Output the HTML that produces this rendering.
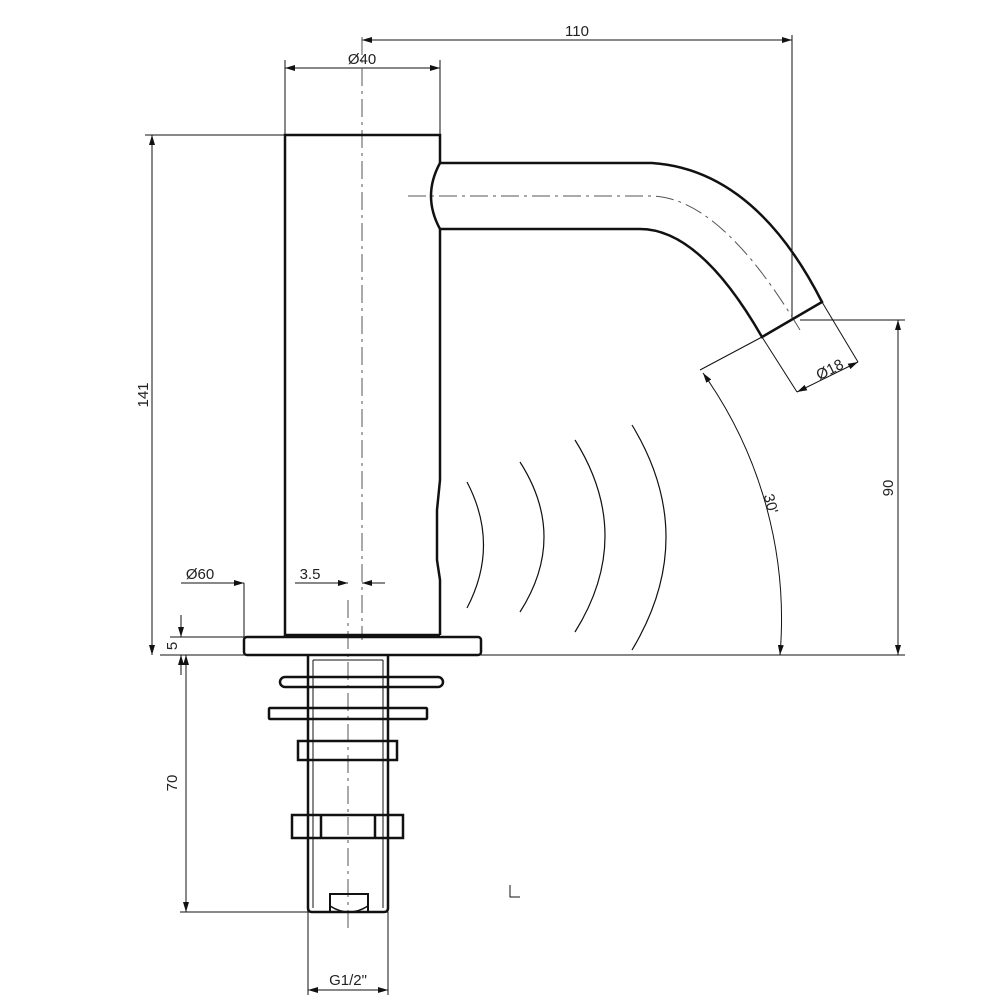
<!DOCTYPE html>
<html><head><style>html,body{margin:0;padding:0;background:#fff}svg{display:block}</style></head><body>
<svg width="1001" height="1001" viewBox="0 0 1001 1001" xmlns="http://www.w3.org/2000/svg" font-family="Liberation Sans, sans-serif" font-size="15" fill="none" stroke="#111">
<defs><marker id="a" viewBox="0 0 10 6" refX="10" refY="3" markerWidth="10" markerHeight="6" orient="auto-start-reverse" markerUnits="userSpaceOnUse"><path d="M0,0 L10,3 L0,6z" fill="#111" stroke="none"/></marker></defs>
<g stroke-width="1">
<line x1="792" y1="35" x2="792" y2="320"/>
<line x1="362" y1="40" x2="792" y2="40" marker-start="url(#a)" marker-end="url(#a)"/>
<line x1="285" y1="60" x2="285" y2="135"/><line x1="440" y1="60" x2="440" y2="160"/>
<line x1="285" y1="68" x2="440" y2="68" marker-start="url(#a)" marker-end="url(#a)"/>
<line x1="145" y1="135" x2="285" y2="135"/>
<line x1="152" y1="135" x2="152" y2="655" marker-start="url(#a)" marker-end="url(#a)"/>
<line x1="160" y1="655" x2="905" y2="655"/>
<line x1="800" y1="320" x2="905" y2="320"/>
<line x1="898" y1="320" x2="898" y2="655" marker-start="url(#a)" marker-end="url(#a)"/>
<line x1="170" y1="637" x2="244" y2="637"/>
<line x1="181" y1="615" x2="181" y2="637" marker-end="url(#a)"/>
<line x1="181" y1="675" x2="181" y2="655" marker-end="url(#a)"/>
<line x1="181" y1="583" x2="244" y2="583" marker-end="url(#a)"/><line x1="244" y1="583" x2="244" y2="637"/>
<line x1="295" y1="583" x2="348" y2="583" marker-end="url(#a)"/><line x1="385" y1="583" x2="362" y2="583" marker-end="url(#a)"/>
<line x1="180" y1="912" x2="308" y2="912"/>
<line x1="186" y1="655" x2="186" y2="912" marker-start="url(#a)" marker-end="url(#a)"/>
<line x1="308" y1="912" x2="308" y2="995"/><line x1="388" y1="912" x2="388" y2="995"/>
<line x1="308" y1="990" x2="388" y2="990" marker-start="url(#a)" marker-end="url(#a)"/>
<line x1="762" y1="337" x2="797" y2="392"/><line x1="822" y1="302" x2="858" y2="362"/>
<line x1="797" y1="392" x2="858" y2="362" marker-start="url(#a)" marker-end="url(#a)"/>
<line x1="762" y1="337" x2="700" y2="370"/>
<path d="M703,373 A425,425 0 0 1 780,655" marker-start="url(#a)" marker-end="url(#a)"/>
</g>
<g stroke-width="1" stroke="#555" stroke-dasharray="18,5,3,5">
<line x1="362" y1="37" x2="362" y2="640"/>
<line x1="348" y1="600" x2="348" y2="930"/>
<path d="M408,196 L650,196 Q720,196 800,330"/>
</g>
<g stroke-width="1.2">
<path d="M467,482 Q500,545 467,608"/>
<path d="M520,462 Q568,537 520,612"/>
<path d="M575,440 Q635,536 575,632"/>
<path d="M632,425 Q700,537 632,650"/>
</g>
<g stroke-width="2.5">
<path d="M440,635 L285,635 L285,135 L440,135 L440,163"/>
<path d="M440,229 L440,480 L437,510 L437,560 L440,580 L440,635"/>
<path d="M440,163 Q422,196 440,229"/>
<path d="M440,163 L652,163 Q755,170 822,302 L762,337 Q700,229 640,229 L440,229"/>
<rect x="244" y="637" width="237" height="18" rx="3"/>
<path d="M308,655 L308,908 Q308,912 312,912 L384,912 Q388,912 388,908 L388,655"/>
<rect x="280" y="677" width="163" height="10" rx="5"/>
<rect x="269" y="708" width="158" height="11" rx="1"/>
<rect x="298" y="741" width="99" height="19"/>
<rect x="292" y="815" width="111" height="23"/>
<line x1="321" y1="815" x2="321" y2="838"/><line x1="375" y1="815" x2="375" y2="838"/>
<path d="M330,912 L330,894 L368,894 L368,912" stroke-width="2"/>
<path d="M330,906 Q349,918 368,906" stroke-width="1.5"/>
</g>
<g stroke-width="1"><line x1="313" y1="660" x2="383" y2="660"/><line x1="313" y1="660" x2="313" y2="908"/><line x1="383" y1="660" x2="383" y2="908"/></g>
<path d="M510,885 L510,897 L520,897" stroke-width="1"/>
<g fill="#222" stroke="none">
<text x="577" y="36" text-anchor="middle">110</text>
<text x="362" y="64" text-anchor="middle">Ø40</text>
<text x="200" y="579" text-anchor="middle">Ø60</text>
<text x="310" y="579" text-anchor="middle">3.5</text>
<text x="348" y="985" text-anchor="middle">G1/2"</text>
<text transform="translate(148,395) rotate(-90)" text-anchor="middle">141</text>
<text transform="translate(177,646) rotate(-90)" text-anchor="middle">5</text>
<text transform="translate(177,783) rotate(-90)" text-anchor="middle">70</text>
<text transform="translate(893,488) rotate(-90)" text-anchor="middle">90</text>
<text transform="translate(766,505) rotate(75)" text-anchor="middle">30'</text>
<text transform="translate(832,374) rotate(-27)" text-anchor="middle">Ø18</text>
</g>
</svg>
</body></html>
